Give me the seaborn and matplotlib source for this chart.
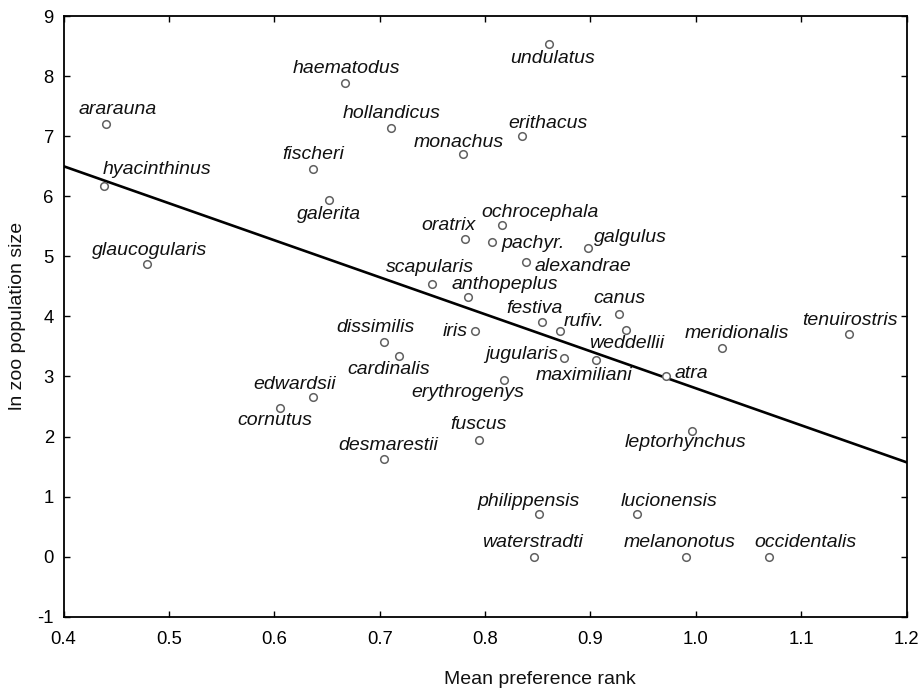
import matplotlib
matplotlib.use("Agg")
import matplotlib.pyplot as plt
import seaborn as sns
import pandas as pd

# ---------------- data ----------------
species = ["ararauna", "hyacinthinus", "glaucogularis", "fischeri", "galerita",
           "haematodus", "hollandicus", "monachus", "erithacus", "undulatus",
           "oratrix", "ochrocephala", "pachyr.", "galgulus", "alexandrae",
           "scapularis", "anthopeplus", "festiva", "rufiv.", "canus",
           "weddellii", "iris", "dissimilis", "cardinalis", "jugularis",
           "maximiliani", "atra", "erythrogenys", "fuscus", "edwardsii",
           "cornutus", "desmarestii", "leptorhynchus", "meridionalis", "tenuirostris",
           "philippensis", "lucionensis", "waterstradti", "melanonotus", "occidentalis"]
mean_rank = [0.440, 0.438, 0.479, 0.637, 0.652,
             0.667, 0.711, 0.779, 0.835, 0.861,
             0.781, 0.816, 0.807, 0.898, 0.839,
             0.750, 0.784, 0.854, 0.871, 0.927,
             0.934, 0.790, 0.704, 0.718, 0.875,
             0.905, 0.972, 0.818, 0.794, 0.637,
             0.605, 0.704, 0.996, 1.025, 1.145,
             0.851, 0.944, 0.846, 0.991, 1.069]
ln_pop = [7.20, 6.17, 4.87, 6.46, 5.93,
          7.88, 7.14, 6.70, 7.00, 8.53,
          5.28, 5.52, 5.23, 5.13, 4.90,
          4.54, 4.33, 3.90, 3.75, 4.04,
          3.78, 3.75, 3.57, 3.34, 3.31,
          3.27, 3.00, 2.94, 1.94, 2.65,
          2.47, 1.62, 2.09, 3.48, 3.70,
          0.71, 0.71, 0.00, 0.00, 0.00]

# fitted line
fit_x = [0.4, 1.2]
fit_y = [6.50, 1.57]

x_ticks = [0.4, 0.5, 0.6, 0.7, 0.8, 0.9, 1.0, 1.1, 1.2]
x_tick_labels = ["0.4", "0.5", "0.6", "0.7", "0.8", "0.9", "1.0", "1.1", "1.2"]
y_ticks = [-1, 0, 1, 2, 3, 4, 5, 6, 7, 8, 9]

# label placement (style): alignment, dx, dy in pixels (dy positive = down)
label_pos = {
    "ararauna": ("center", 12, -15), "hyacinthinus": ("left", -1, -17),
    "glaucogularis": ("center", 3, -14), "fischeri": ("center", 0, -14),
    "galerita": ("center", 0, 14), "haematodus": ("center", 2, -15),
    "hollandicus": ("center", 0, -14), "monachus": ("center", -4, -12),
    "erithacus": ("center", 26, -13), "undulatus": ("center", 3, 14),
    "oratrix": ("center", -17, -14), "ochrocephala": ("center", 38, -13),
    "pachyr.": ("left", 9, 1), "galgulus": ("left", 6, -11),
    "alexandrae": ("left", 8, 4), "scapularis": ("center", -2, -16),
    "anthopeplus": ("center", 37, -12), "festiva": ("center", -7, -14),
    "rufiv.": ("left", 4, -10), "canus": ("center", 0, -15),
    "weddellii": ("center", 0, 14), "iris": ("right", -7, 0),
    "dissimilis": ("center", -8, -15), "cardinalis": ("center", -10, 13),
    "jugularis": ("right", -6, -3), "maximiliani": ("center", -12, 15),
    "atra": ("left", 8, -3), "erythrogenys": ("center", -36, 12),
    "fuscus": ("center", 0, -16), "edwardsii": ("center", -19, -13),
    "cornutus": ("center", -5, 12), "desmarestii": ("center", 4, -14),
    "leptorhynchus": ("center", -6, 11), "meridionalis": ("center", 15, -14),
    "tenuirostris": ("center", 1, -14), "philippensis": ("center", -10, -13),
    "lucionensis": ("center", 32, -13), "waterstradti": ("center", -1, -14),
    "melanonotus": ("center", -7, -14), "occidentalis": ("center", 37, -14),
}

df = pd.DataFrame({"species": species, "x": mean_rank, "y": ln_pop})
fit_df = pd.DataFrame({"x": fit_x, "y": fit_y})

# ---------------- plot ----------------
sns.set_style("ticks")
plt.rcParams["font.family"] = ["Liberation Sans", "DejaVu Sans"]
plt.rcParams["axes.unicode_minus"] = False

DPI = 100
fig = plt.figure(figsize=(9.19, 6.91), dpi=DPI)
ax = fig.add_axes([0.0691, 0.1075, 0.9175, 0.8693])

sns.lineplot(data=fit_df, x="x", y="y", ax=ax, color="black", linewidth=1.9,
             zorder=2)
sns.scatterplot(data=df, x="x", y="y", ax=ax, marker="o", s=30,
                facecolor="white", edgecolor="#606060", linewidth=1.1,
                zorder=3)

px = 72.0 / DPI
for sp, xv, yv in zip(species, mean_rank, ln_pop):
    ha, dx, dy = label_pos[sp]
    ax.annotate(sp, (xv, yv), xytext=(dx * px, -dy * px),
                textcoords="offset points", ha=ha, va="center",
                fontsize=14, fontstyle="italic", color="#111111", zorder=4)

ax.set_xlim(0.4, 1.2)
ax.set_ylim(-1, 9)
ax.set_xticks(x_ticks)
ax.set_xticklabels(x_tick_labels)
ax.set_yticks(y_ticks)

for side in ["top", "right", "left", "bottom"]:
    ax.spines[side].set_visible(True)
    ax.spines[side].set_linewidth(1.3)
    ax.spines[side].set_color("black")

ax.tick_params(axis="both", which="both", direction="in", length=4.5, width=1.0,
               top=True, right=True, labelsize=13.3, colors="black")
ax.tick_params(axis="x", pad=10)
ax.tick_params(axis="y", pad=7)

ax.set_xlabel("Mean preference rank", fontsize=14, color="#111111")
ax.set_ylabel("ln zoo population size", fontsize=14, color="#111111")
ax.xaxis.set_label_coords(0.565, -0.09)
ax.yaxis.set_label_coords(-0.0445, 0.5)

fig.savefig("out.png", dpi=DPI, facecolor="white")
